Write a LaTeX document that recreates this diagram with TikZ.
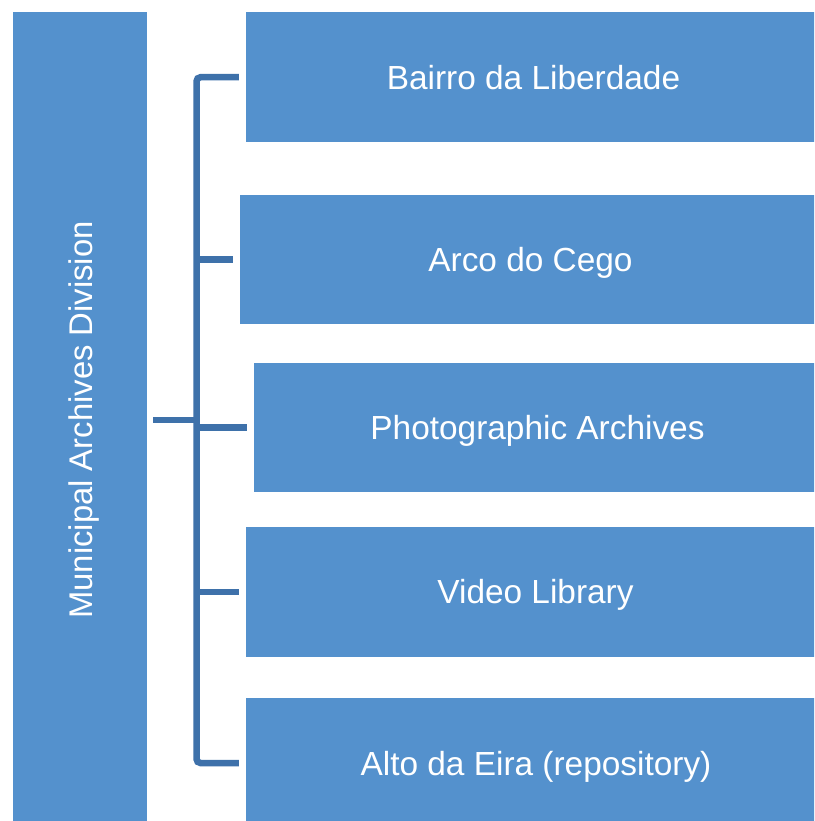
\documentclass[tikz,border=0pt]{standalone}
\usepackage{fontspec}
\setmainfont{Liberation Sans}
\definecolor{boxblue}{RGB}{84,145,205}
\definecolor{lineblue}{RGB}{62,113,170}
\tikzset{
  unitbox/.style={rectangle, fill=boxblue, draw=none, inner sep=0pt,
    text=white, font=\fontsize{33.4}{40}\selectfont, text height=24pt, text depth=0pt},
  conn/.style={draw=lineblue, line width=6.5pt}
}
\begin{document}
\begin{tikzpicture}[x=1pt,y=-1pt]
\fill[white] (0,0) rectangle (814,821);
\useasboundingbox (0,0) rectangle (814,821);
\clip (0,0) rectangle (814,821);
\node[unitbox, font=\fontsize{32.8}{40}\selectfont, rotate=90, minimum width=816pt, minimum height=134pt] (main) at (80,420) {Municipal Archives Division};
\node[unitbox, minimum width=575pt, minimum height=130.5pt] (b1) at (533.5,77.25) {Bairro da Liberdade};
\node[unitbox, minimum width=581pt, minimum height=129.5pt] (b2) at (530.5,259.25) {Arco do Cego};
\node[unitbox, minimum width=567pt, minimum height=129pt] (b3) at (537.5,427.5) {Photographic Archives};
\node[unitbox, minimum width=579pt, minimum height=129.5pt] (b4) at (535.5,591.75) {Video Library};
\node[unitbox, minimum width=580pt, minimum height=130pt] (b5) at (536,763) {Alto da Eira (repository)};
\coordinate (bus) at (196.5,0);
\draw[conn, rounded corners=4pt] ([xshift=-7pt]b1.west) -- (bus |- b1.west) -- (bus |- b5.west) -- ([xshift=-7pt]b5.west);
\foreach \b in {b2,b3,b4} {
  \draw[conn] (bus |- \b.west) -- ([xshift=-7pt]\b.west);
}
\draw[conn] ([xshift=6pt]main.south) -- ([xshift=3pt]bus |- main.south);
\end{tikzpicture}
\end{document}
